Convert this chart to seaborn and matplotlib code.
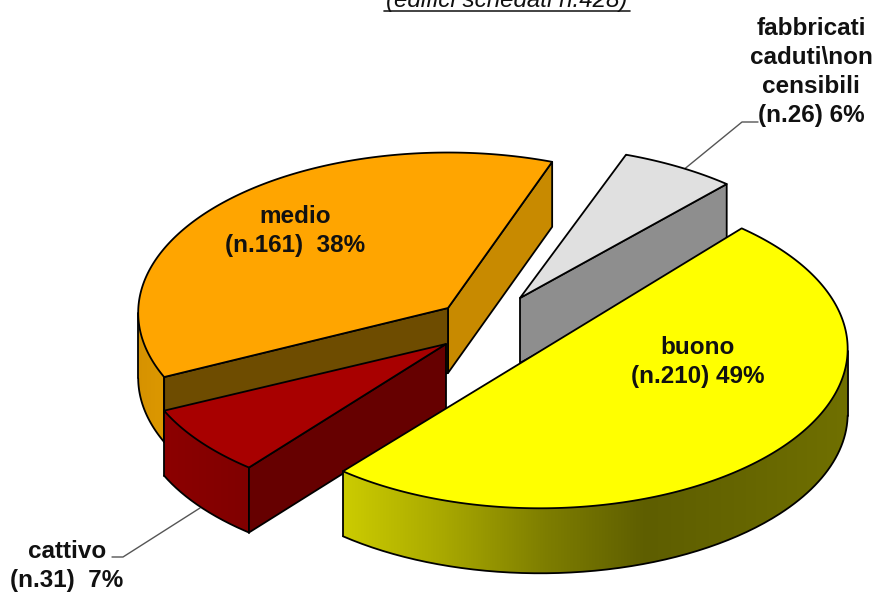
import numpy as np
import matplotlib
matplotlib.use("Agg")
import matplotlib.pyplot as plt
from matplotlib.colors import to_rgb
from matplotlib.patches import Polygon
import seaborn as sns

# ---- data ----
categories = ["buono", "cattivo", "medio", "fabbricati"]
counts = [210, 31, 161, 26]
label_texts = [
    "buono\n(n.210) 49%",
    "cattivo\n(n.31)  7%",
    "medio\n(n.161)  38%",
    "fabbricati\ncaduti\\non\ncensibili\n(n.26) 6%",
]
title_text = "(edifici schedati n.428)"

# ---- layout (pixel space of the 877x592 figure) ----
centre = {"buono": (540, 344), "cattivo": (446, 344), "medio": (448, 308), "fabbricati": (520, 298)}
scale = {"buono": (1.005, 1.015), "cattivo": (1.005, 0.985), "medio": (1.012, 1.02), "fabbricati": (1.03, 1.0)}
label_pos = {"buono": (698, 362), "cattivo": (67, 566), "medio": (295, 231), "fabbricati": (811, 72)}
RX, RY, DEPTH, PERSP = 306.0, 157.0, 65.0, 0.03
START_DEG = 47.9
LW = 1.3

sns.set_theme(style="white")
plt.rcParams["font.family"] = ["Liberation Sans", "DejaVu Sans"]

fig = plt.figure(figsize=(8.77, 5.92), dpi=100, facecolor="white")
ax = fig.add_axes([0, 0, 1, 1])

styles = {
    "buono": dict(top="#FFFF00", ramp=["#CCCC00", "#A8A800", "#7E7E00", "#5E5E00", "#666600", "#707000"]),
    "cattivo": dict(top="#A80000", inner="#660000", ramp=["#8C0000", "#800000"]),
    "medio": dict(top="#FFA500", inner="#6E4C00", right="#C88A00", ramp=["#D69200", "#DC9800"]),
    "fabbricati": dict(top="#E0E0E0", inner="#8E8E8E", ramp=["#8E8E8E", "#8E8E8E"]),
}


def project(name, t):
    cx, cy = centre[name]
    sx, sy = scale[name]
    X, Y = np.cos(t), np.sin(t)
    s = 1.0 / (1.0 + PERSP * Y)
    return np.column_stack([cx + sx * RX * X * s, cy - sy * RY * Y * s])


def face(pts, color, z):
    ax.add_patch(Polygon(pts, closed=True, facecolor=color, edgecolor="black",
                         linewidth=LW, joinstyle="round", zorder=z))


def gradient_side(rim, ramp_colors, z):
    """Outer rim band: a horizontal colour ramp clipped to the band."""
    down = np.array([0, DEPTH])
    band = np.vstack([rim, (rim + down)[::-1]])
    x0, x1 = rim[:, 0].min(), rim[:, 0].max()
    y0, y1 = band[:, 1].min(), band[:, 1].max()
    ramp = np.array([to_rgb(c) for c in sns.blend_palette(ramp_colors, n_colors=256)])[None, :, :]
    im = ax.imshow(ramp, extent=(x0, x1, y1, y0), aspect="auto", interpolation="bilinear", zorder=z)
    clip = Polygon(band, closed=True, facecolor="none", edgecolor="none", zorder=z)
    ax.add_patch(clip)
    im.set_clip_path(clip)
    line = dict(color="black", lw=LW, solid_capstyle="round", zorder=z + 0.1)
    ax.plot(rim[:, 0], rim[:, 1] + DEPTH, **line)
    for p in (rim[0], rim[-1]):
        ax.plot([p[0], p[0]], [p[1], p[1] + DEPTH], **line)


def wedge(name, a0, a1, z):
    """Clockwise sweep from a0 down to a1 in disc angle."""
    st = styles[name]
    t = np.linspace(a0, a1, 240)
    arc = project(name, t)
    ap = np.array([centre[name]], float)
    if name == "buono":
        ap = (arc[0] + arc[-1])[None, :] / 2.0   # near-half disc reads as a straight cut
    down = np.array([0, DEPTH])

    if name == "medio":
        face(np.vstack([ap, arc[-1], arc[-1] + down, ap + down]), st["right"], z)
    elif name == "fabbricati":
        face(np.vstack([ap, arc[-1], arc[-1] + down, ap + down]), st["inner"], z)

    # outer rim from the silhouette point onward, where it faces the viewer
    idx = np.where(np.sin(t) <= -PERSP)[0]
    if len(idx) > 1 and name != "fabbricati":
        gradient_side(arc[idx][np.argsort(arc[idx, 0])], st["ramp"], z)

    if name == "medio":
        face(np.vstack([ap, arc[0], arc[0] + down, ap + down]), st["inner"], z + 0.2)
    elif name == "cattivo":
        face(np.vstack([ap, arc[0], arc[0] + down, ap + down]), st["inner"], z + 0.2)

    face(np.vstack([ap, arc]), st["top"], z + 0.5)


# slices go clockwise from the start angle
fracs = np.array(counts, float) / np.sum(counts)
angle = np.deg2rad(START_DEG)
draw_z = {"medio": 2, "fabbricati": 3, "cattivo": 4, "buono": 5}
for name, f in zip(categories, fracs):
    wedge(name, angle, angle - 2 * np.pi * f, draw_z[name])
    angle -= 2 * np.pi * f

# leader lines
ax.plot([682, 742, 758], [171, 122, 122], color="#555555", lw=1.0, zorder=1)
ax.plot([200, 123, 112], [508, 557, 557], color="#555555", lw=1.0, zorder=1)

# labels
for name, txt in zip(categories, label_texts):
    x, y = label_pos[name]
    ax.text(x, y, txt, ha="center", va="center", fontsize=17.5, fontweight="bold",
            color="#111111", linespacing=1.34, zorder=10)

# title, cut by the top edge as in the source image
ax.text(507, 7, title_text, ha="center", va="baseline", fontsize=17.4, style="italic", color="#111111")
ax.plot([384, 630], [11, 11], color="#222222", lw=1.2)

ax.set_xlim(0, 877)
ax.set_ylim(592, 0)
ax.axis("off")
fig.savefig("out.png", dpi=100)
